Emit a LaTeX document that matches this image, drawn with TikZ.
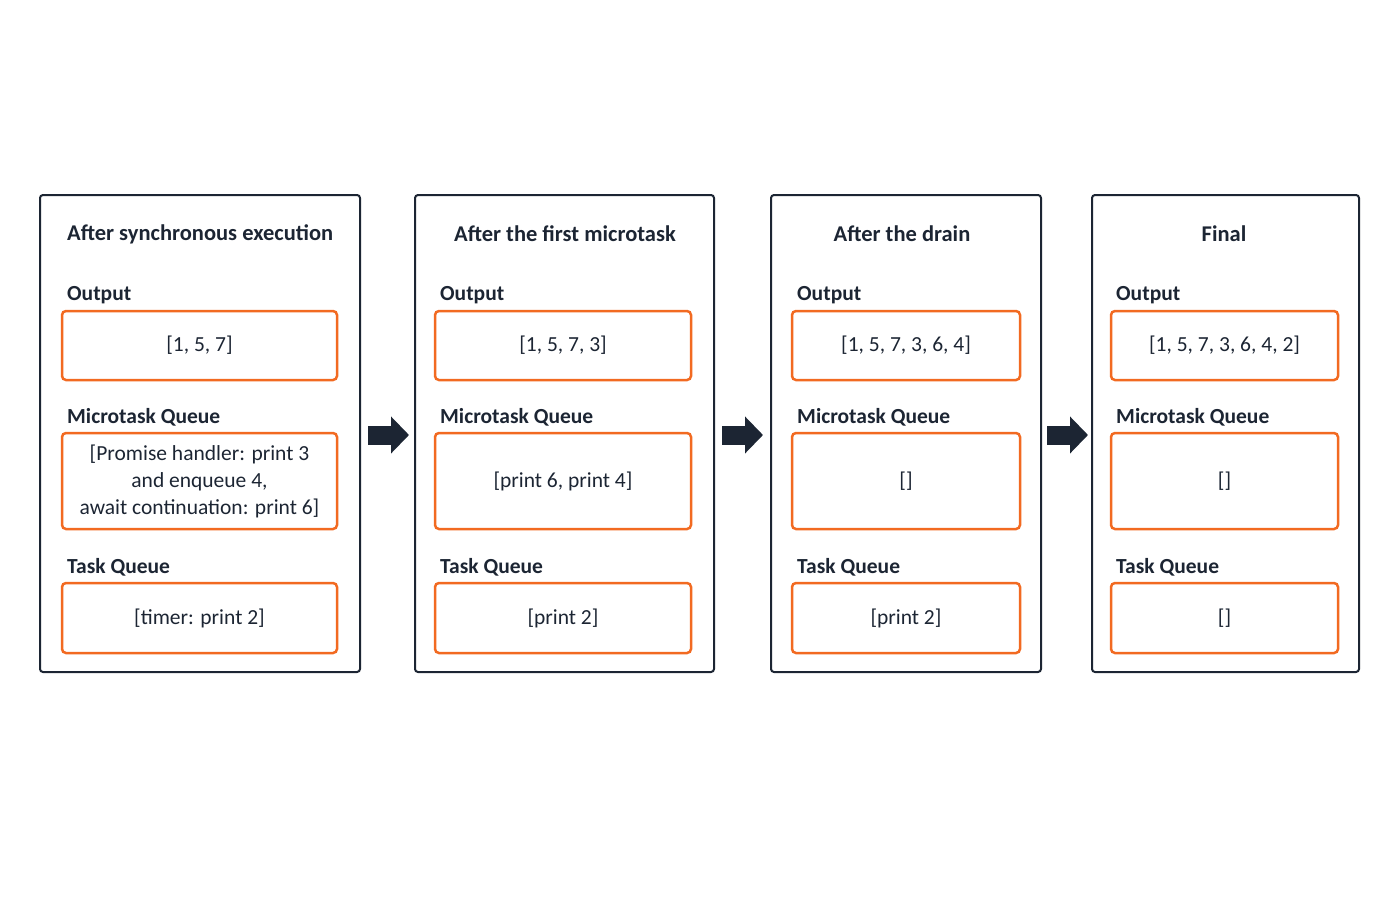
\documentclass[tikz,border=0pt]{standalone}
\usepackage{fontspec}
\setmainfont{Carlito}
\usetikzlibrary{arrows.meta}
\definecolor{navy}{HTML}{1C2533}
\definecolor{org}{HTML}{F26A21}
\begin{document}
\begin{tikzpicture}[x=1pt,y=-1pt,
  panel/.style={draw=navy,line width=2pt,rounded corners=3pt},
  qbox/.style={draw=org,line width=2.5pt,rounded corners=4pt},
  ttl/.style={font=\fontsize{22.5}{26}\selectfont\bfseries,text=navy},
  lbl/.style={font=\fontsize{21.5}{26}\selectfont\bfseries,text=navy,anchor=west,inner sep=0pt},
  txt/.style={font=\fontsize{21.5}{27}\selectfont,text=navy,align=center},
  flow/.style={draw=navy,line width=19pt,-{Triangle[length=18pt 0,width=36pt 0]}}]
\useasboundingbox (0,0) rectangle (1400,900);
\def\panel#1#2#3{%
  \draw[panel] (#2,195) rectangle (#3,672);
}
\panel{a}{40}{360}
\panel{b}{415}{714}
\panel{c}{771}{1041}
\panel{d}{1092}{1359}
\node[ttl,anchor=west,inner sep=0pt] (ta) at (67,234) {After synchronous execution};
\node[ttl] (tb) at (565,234) {After the first microtask};
\node[ttl] (tc) at (902,234) {After the drain};
\node[ttl] (td) at (1224,234) {Final};
\def\col#1#2#3#4#5#6{%
  \node[lbl] at (#2+5,295) {Output};
  \node[lbl] at (#2+5,417) {Microtask Queue};
  \node[lbl] at (#2+5,567) {Task Queue};
  \draw[qbox] (#2,311) rectangle (#3,380);
  \draw[qbox] (#2,433) rectangle (#3,529);
  \draw[qbox] (#2,583) rectangle (#3,653);
  \node[txt] (#1o) at ({(#2+#3)/2},345) {#4};
  \node[txt] (#1m) at ({(#2+#3)/2},481) {#5};
  \node[txt] (#1t) at ({(#2+#3)/2},618) {#6};
}
\col{a}{62}{337}{[1, 5, 7]}{[Promise handler: print 3\\ and enqueue 4,\\ await continuation: print 6]}{[timer: print 2]}
\col{b}{435}{691}{[1, 5, 7, 3]}{[print 6, print 4]}{[print 2]}
\col{c}{792}{1020}{[1, 5, 7, 3, 6, 4]}{[]}{[print 2]}
\col{d}{1111}{1338}{[1, 5, 7, 3, 6, 4, 2]}{[]}{[]}
\coordinate (a1) at (368,435); \coordinate (a2) at (409,435);
\coordinate (b1) at (722,435); \coordinate (b2) at (763,435);
\coordinate (c1) at (1047,435); \coordinate (c2) at (1088,435);
\draw[flow] (a1) -- (a2);
\draw[flow] (b1) -- (b2);
\draw[flow] (c1) -- (c2);
\end{tikzpicture}
\end{document}
